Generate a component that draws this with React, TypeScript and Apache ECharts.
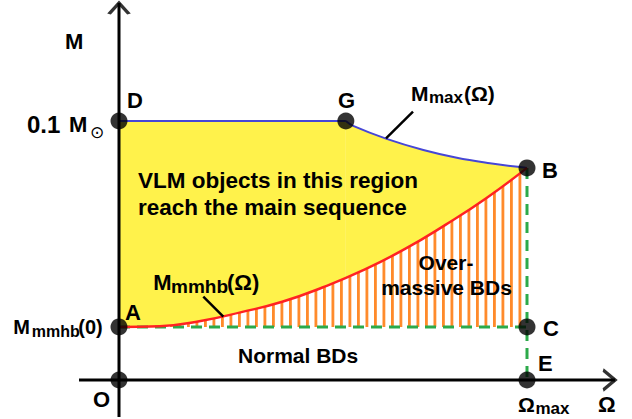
import React, { useEffect, useRef } from "react";
import * as echarts from "echarts";

// Ω in units of Ω_max, M in units of M_sun
const omegaMmmhb = [0, 0.1, 0.2, 0.3, 0.4, 0.5, 0.6, 0.7, 0.8, 0.9, 1.0];
const massMmmhb = [0.0205, 0.0208, 0.0228, 0.0262, 0.0302, 0.0358, 0.0425, 0.0505, 0.0599, 0.0702, 0.0819];

const omegaFlat = [0, 0.556];
const massFlat = [0.1, 0.1];

const omegaMaxCurve = [0.556, 0.574, 0.656, 0.746, 0.828, 0.909, 0.987, 1.0];
const massMaxCurve = [0.1, 0.0981, 0.0931, 0.0888, 0.0858, 0.0837, 0.0821, 0.0819];

const mmmhb0 = 0.0205;
const omegaMaxValue = 1.0;
const massB = 0.0819;

const xAxisExtent = [-0.098, 1.216];
const yAxisExtent = [-0.0143, 0.1456];

const pointNames = ["O", "A", "D", "G", "B", "C", "E"];
const pointOmega = [0, 0, 0, 0.556, 1.0, 1.0, 1.0];
const pointMass = [0, 0.0205, 0.1, 0.1, 0.0819, 0.0205, 0];

const zip = (xs: number[], ys: number[]) => xs.map((x, i) => [x, ys[i]]);

const YELLOW = "#FFF24B";
const BLUE = "#4646D6";
const RED = "#FF2222";
const ORANGE = "#FF8A2A";
const GREEN = "#2CAA4A";
const FONT = '"Liberation Sans", Arial, sans-serif';

const stripeSvg =
  '<svg xmlns="http://www.w3.org/2000/svg" width="8.5" height="10">' +
  '<rect width="8.5" height="10" fill="#ffffff"/>' +
  '<rect x="0" y="0" width="2.8" height="10" fill="' + ORANGE + '"/></svg>';
const stripePattern: any = {
  image: "data:image/svg+xml;charset=utf-8," + encodeURIComponent(stripeSvg),
  repeat: "repeat",
  imageWidth: 8.5,
  imageHeight: 10,
};

const txt = (text: string, x: number, y: number, size = 22, extra: any = {}) => ({
  type: "text",
  x,
  y,
  z: 100,
  silent: true,
  style: {
    text,
    font: `bold ${size}px ${FONT}`,
    fill: "#000",
    align: "left",
    verticalAlign: "middle",
    ...extra,
  },
});

const leader = (x1: number, y1: number, x2: number, y2: number) => ({
  type: "line",
  z: 100,
  silent: true,
  shape: { x1, y1, x2, y2 },
  style: { stroke: "#000", lineWidth: 2.5 },
});

export default function App() {
  const ref = useRef<HTMLDivElement>(null);

  useEffect(() => {
    const chart = echarts.init(ref.current!, null, { renderer: "svg" });

    const lineBase = {
      type: "line",
      showSymbol: false,
      symbol: "none",
      clip: false,
      silent: true,
      animation: false,
    };

    // scales: 408 px per Ω_max unit, 2590 px per M_sun unit; origin O at (119, 380)
    const xMin = -0.1, xMax = 1.22, yMin = -0.015, yMax = 0.146;
    const pxX = 408, pxY = 2590;

    const option: any = {
      animation: false,
      backgroundColor: "#fff",
      grid: {
        left: 119 + xMin * pxX,
        top: 380 - yMax * pxY,
        width: (xMax - xMin) * pxX,
        height: (yMax - yMin) * pxY,
        show: false,
      },
      xAxis: { type: "value", min: xMin, max: xMax, show: false },
      yAxis: { type: "value", min: yMin, max: yMax, show: false },
      series: [
        {
          ...lineBase,
          name: "flat",
          z: 1,
          data: zip(omegaFlat, massFlat),
          lineStyle: { color: BLUE, width: 2 },
          areaStyle: { color: YELLOW, opacity: 1, origin: 0 },
        },
        {
          ...lineBase,
          name: "Mmax",
          z: 1,
          smooth: 0.4,
          data: zip(omegaMaxCurve, massMaxCurve),
          lineStyle: { color: BLUE, width: 2 },
          areaStyle: { color: YELLOW, opacity: 1, origin: 0 },
        },
        {
          ...lineBase,
          name: "hatch",
          z: 2,
          smooth: 0.5,
          data: zip(omegaMmmhb, massMmmhb),
          lineStyle: { width: 0, opacity: 0 },
          areaStyle: { color: stripePattern, opacity: 1, origin: 0 },
        },
        {
          ...lineBase,
          name: "cover",
          z: 3,
          data: [
            [0, mmmhb0],
            [omegaMaxValue, mmmhb0],
          ],
          lineStyle: { width: 0, opacity: 0 },
          areaStyle: { color: "#fff", opacity: 1, origin: 0 },
        },
        {
          ...lineBase,
          name: "AC",
          z: 4,
          data: [
            [0, mmmhb0],
            [omegaMaxValue, mmmhb0],
          ],
          lineStyle: { color: GREEN, width: 3, type: [11, 7] },
        },
        {
          ...lineBase,
          name: "BE",
          z: 4,
          data: [
            [omegaMaxValue, massB],
            [omegaMaxValue, 0],
          ],
          lineStyle: { color: GREEN, width: 3, type: [11, 7] },
        },
        {
          ...lineBase,
          name: "Mmmhb",
          z: 5,
          smooth: 0.5,
          data: zip(omegaMmmhb, massMmmhb),
          lineStyle: { color: RED, width: 2.5 },
        },
        {
          ...lineBase,
          name: "xaxis",
          z: 6,
          data: [
            [xAxisExtent[0], 0],
            [xAxisExtent[1], 0],
          ],
          lineStyle: { color: "#000", width: 3 },
        },
        {
          ...lineBase,
          name: "yaxis",
          z: 6,
          data: [
            [0, yAxisExtent[0]],
            [0, yAxisExtent[1]],
          ],
          lineStyle: { color: "#000", width: 3 },
        },
        {
          type: "scatter",
          name: "arrowUp",
          z: 6,
          clip: false,
          silent: true,
          symbol: "path://M0,11L10,0L20,11",
          symbolSize: [20, 11],
          symbolOffset: [0, 5.5],
          itemStyle: { color: "rgba(0,0,0,0)", borderColor: "#000", borderWidth: 3 },
          data: [[0, yAxisExtent[1]]],
        },
        {
          type: "scatter",
          name: "arrowRight",
          z: 6,
          clip: false,
          silent: true,
          symbol: "path://M0,0L12,10L0,20",
          symbolSize: [12, 20],
          symbolOffset: [-6, 0],
          itemStyle: { color: "rgba(0,0,0,0)", borderColor: "#000", borderWidth: 3 },
          data: [[xAxisExtent[1], 0]],
        },
        {
          type: "scatter",
          name: "points",
          z: 7,
          clip: false,
          silent: true,
          symbol: "circle",
          symbolSize: 17,
          itemStyle: { color: "#000" },
          data: pointNames.map((n, i) => ({ name: n, value: [pointOmega[i], pointMass[i]] })),
        },
      ],
      graphic: [
        txt("M", 65, 41),
        txt("D", 127, 100),
        txt("0.1", 27, 124.5, 24),
        txt("M", 69, 124.5),
        {
          type: "text",
          x: 90,
          y: 132,
          z: 100,
          silent: true,
          style: {
            text: "⊙",
            font: `17px "DejaVu Sans", sans-serif`,
            fill: "#000",
            align: "left",
            verticalAlign: "middle",
          },
        },
        txt("G", 338, 100.5),
        txt("M", 411, 93, 21),
        txt("max", 429, 97, 17),
        txt("(Ω)", 464, 93, 21),
        leader(413, 111.7, 386, 138.3),
        txt("B", 542, 170),
        txt("VLM objects in this region", 138, 180, 22.5),
        txt("reach the main sequence", 138, 207, 22.5),
        txt("M", 153.3, 282.5, 22),
        txt("mmhb", 171, 286.5, 19),
        txt("(Ω)", 227, 282.5, 22),
        leader(203.3, 296.7, 223.3, 316.7),
        txt("A", 125, 312.5),
        txt("M", 13.3, 327, 20),
        txt("mmhb", 31.7, 331, 16),
        txt("(0)", 78.3, 327, 20),
        txt("Over-", 446, 262.5, 21, { align: "center" }),
        txt("massive BDs", 446.5, 287, 21, { align: "center" }),
        txt("C", 543, 328),
        txt("Normal BDs", 238, 355.5, 21),
        txt("E", 538, 363.5),
        txt("O", 93, 399.5),
        txt("Ω", 518, 404.5, 21),
        txt("max", 535.5, 408, 17),
        txt("Ω", 598, 404.5, 22),
      ],
    };

    chart.setOption(option);
    return () => chart.dispose();
  }, []);

  return (
    <div
      ref={ref}
      style={{ position: "fixed", left: 0, top: 0, width: 632, height: 419, background: "#fff" }}
    />
  );
}
